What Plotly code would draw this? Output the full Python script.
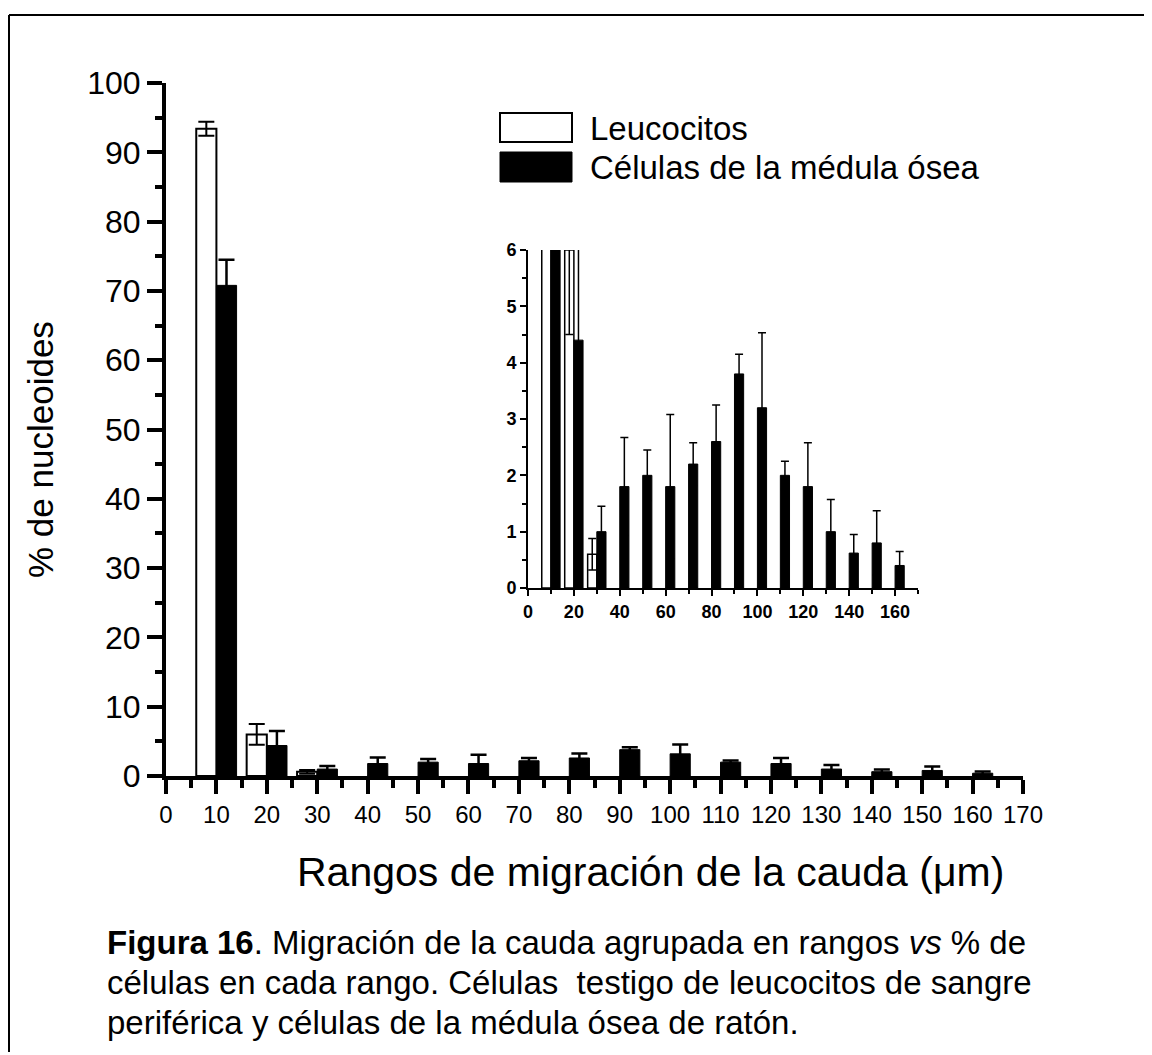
import plotly.graph_objects as go

FONT = "Liberation Sans, Arial, sans-serif"

# Rangos de migración (centro del rango, µm)
rangos = [10, 20, 30, 40, 50, 60, 70, 80, 90, 100, 110, 120, 130, 140, 150, 160]
# Leucocitos (sólo hay células en los tres primeros rangos)
leuco_x = [10, 20, 30]
leuco = [93.4, 6.0, 0.6]
leuco_err = [1.0, 1.5, 0.28]
# Células de la médula ósea
medula = [70.8, 4.4, 1.0, 1.8, 2.0, 1.8, 2.2, 2.6, 3.8, 3.2, 2.0, 1.8, 1.0, 0.62, 0.8, 0.4]
medula_err = [3.7, 2.1, 0.45, 0.87, 0.45, 1.28, 0.38, 0.65, 0.35, 1.33, 0.25, 0.78, 0.57, 0.33, 0.57, 0.25]

x_tickvals = list(range(0, 171, 10))
inset_tickvals = list(range(0, 161, 20))

# the page puts the figure 8px in from the top-left corner
OFF = 8
W, H = 1152 - OFF, 1055 - OFF
# plot area on screen: x 166..1023, y 83..776
SL, SR, ST, SB = 166, 1023, 83, 776
PW, PH = SR - SL, SB - ST


def px(x):
    return (x - SL) / PW


def py(y):
    return (SB - y) / PH


fig = go.Figure()

# main chart
fig.add_trace(go.Bar(
    x=leuco_x, y=leuco, name="Leucocitos", offsetgroup="a",
    marker=dict(color="white", line=dict(color="black", width=2)),
    error_y=dict(type="data", array=leuco_err, color="black", thickness=2, width=8),
))
fig.add_trace(go.Bar(
    x=rangos, y=medula, name="Células de la médula ósea", offsetgroup="b",
    marker=dict(color="black", line=dict(color="black", width=1)),
    error_y=dict(type="data", array=medula_err, color="black", thickness=2.5, width=8),
))

# inset (zoom 0-6 %)
fig.add_trace(go.Bar(
    x=leuco_x, y=leuco, offsetgroup="a", xaxis="x2", yaxis="y2",
    marker=dict(color="white", line=dict(color="black", width=1.5)),
    error_y=dict(type="data", array=leuco_err, color="black", thickness=1.5, width=4),
))
fig.add_trace(go.Bar(
    x=rangos, y=medula, offsetgroup="b", xaxis="x2", yaxis="y2",
    marker=dict(color="black", line=dict(color="black", width=1)),
    error_y=dict(type="data", array=medula_err, color="black", thickness=1.5, width=4),
))

axis_common = dict(showgrid=False, zeroline=False, showline=True, linecolor="black", ticks="outside", tickcolor="black")
inset_font = dict(size=18, family="Liberation Sans, Arial, sans-serif", weight="bold")

fig.update_layout(
    template="none",
    width=W, height=H,
    margin=dict(l=SL - OFF, r=W - (SR - OFF), t=ST - OFF, b=H - (SB - OFF)),
    paper_bgcolor="white", plot_bgcolor="white",
    font=dict(family=FONT, color="black"),
    showlegend=False,
    barmode="group", bargap=0.2, bargroupgap=0,
    xaxis=dict(
        **axis_common, domain=[0, 1], range=[0, 170], tickvals=x_tickvals,
        linewidth=4, ticklen=14, tickwidth=4, tickfont=dict(size=24),
        minor=dict(dtick=5, tick0=0, ticks="outside", ticklen=8, tickwidth=4, tickcolor="black", showgrid=False),
    ),
    yaxis=dict(
        **axis_common, domain=[0, 1], range=[0, 100], dtick=10, tick0=0,
        linewidth=4, ticklen=15, tickwidth=4, tickfont=dict(size=32),
        minor=dict(dtick=5, tick0=0, ticks="outside", ticklen=7, tickwidth=4, tickcolor="black", showgrid=False),
    ),
    xaxis2=dict(
        **axis_common, domain=[px(528), px(918)], anchor="y2", range=[0, 170], tickvals=inset_tickvals,
        linewidth=2, ticklen=6, tickwidth=2, tickfont=inset_font,
        minor=dict(dtick=10, tick0=0, ticks="outside", ticklen=4, tickwidth=2, tickcolor="black", showgrid=False),
    ),
    yaxis2=dict(
        **axis_common, domain=[py(588), py(250)], anchor="x2", range=[0, 6], dtick=1, tick0=0,
        linewidth=2, ticklen=6, tickwidth=2, tickfont=inset_font,
        minor=dict(dtick=0.5, tick0=0, ticks="outside", ticklen=4, tickwidth=2, tickcolor="black", showgrid=False),
    ),
)

# legend drawn by hand (large swatches)
fig.add_shape(type="rect", xref="paper", yref="paper", x0=px(500), x1=px(572), y0=py(142), y1=py(113),
              line=dict(color="black", width=2), fillcolor="white")
fig.add_shape(type="rect", xref="paper", yref="paper", x0=px(500), x1=px(572), y0=py(182), y1=py(152),
              line=dict(color="black", width=1), fillcolor="black")
fig.add_annotation(text="Leucocitos", xref="paper", yref="paper", x=px(588), y=py(128),
                   xanchor="left", yanchor="middle", showarrow=False, font=dict(size=33))
fig.add_annotation(text="Células de la médula ósea", xref="paper", yref="paper", x=px(588), y=py(167),
                   xanchor="left", yanchor="middle", showarrow=False, font=dict(size=33))

# axis titles
fig.add_annotation(text="Rangos de migración de la cauda (μm)", xref="paper", yref="paper",
                   x=px(650), y=py(872), xanchor="center", yanchor="middle", showarrow=False, font=dict(size=41))
fig.add_annotation(text="% de nucleoides", xref="paper", yref="paper", textangle=-90,
                   x=px(40), y=py(450), xanchor="center", yanchor="middle", showarrow=False, font=dict(size=35))

# caption
caption = [
    "<b>Figura 16</b>. Migración de la cauda agrupada en rangos <i>vs</i> % de",
    "células en cada rango. Células  testigo de leucocitos de sangre",
    "periférica y células de la médula ósea de ratón.",
]
for line, yc in zip(caption, [942, 982, 1022]):
    fig.add_annotation(text=line, xref="paper", yref="paper", x=px(105), y=py(yc),
                       xanchor="left", yanchor="middle", showarrow=False, font=dict(size=33))

# frame around the figure (top and left edges visible)
fig.add_shape(type="line", xref="paper", yref="paper", x0=px(9), x1=px(1152), y0=py(15), y1=py(15),
              line=dict(color="black", width=2))
fig.add_shape(type="line", xref="paper", yref="paper", x0=px(9), x1=px(9), y0=py(15), y1=py(1052),
              line=dict(color="black", width=2))

fig.write_html("out.html")
